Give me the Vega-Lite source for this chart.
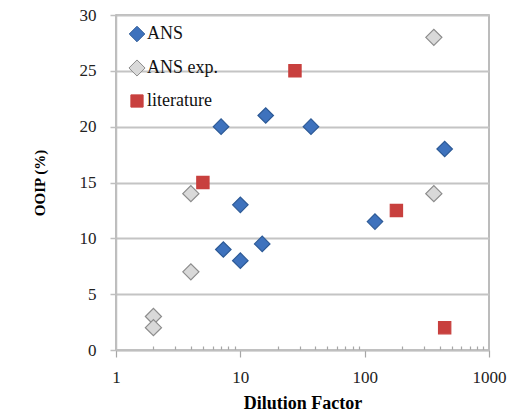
{
  "$schema": "https://vega.github.io/schema/vega-lite/v6.json",
  "autosize": "none",
  "width": 373,
  "height": 335,
  "padding": {"left": 116, "top": 15, "right": 42, "bottom": 65},
  "background": "white",
  "config": {
    "font": "Liberation Serif",
    "view": {"stroke": "#A6A6A6", "strokeWidth": 1.5}
  },
  "data": {
    "values": [
      {"series": "ANS", "dilution": 7, "ooip": 20},
      {"series": "ANS", "dilution": 7.3, "ooip": 9},
      {"series": "ANS", "dilution": 10, "ooip": 13},
      {"series": "ANS", "dilution": 10, "ooip": 8},
      {"series": "ANS", "dilution": 15, "ooip": 9.5},
      {"series": "ANS", "dilution": 16, "ooip": 21},
      {"series": "ANS", "dilution": 37, "ooip": 20},
      {"series": "ANS", "dilution": 121, "ooip": 11.5},
      {"series": "ANS", "dilution": 440, "ooip": 18},
      {"series": "ANS exp.", "dilution": 2, "ooip": 3},
      {"series": "ANS exp.", "dilution": 2, "ooip": 2},
      {"series": "ANS exp.", "dilution": 4, "ooip": 14},
      {"series": "ANS exp.", "dilution": 4, "ooip": 7},
      {"series": "ANS exp.", "dilution": 360, "ooip": 28},
      {"series": "ANS exp.", "dilution": 360, "ooip": 14},
      {"series": "literature", "dilution": 5, "ooip": 15},
      {"series": "literature", "dilution": 27.5, "ooip": 25},
      {"series": "literature", "dilution": 180, "ooip": 12.5},
      {"series": "literature", "dilution": 440, "ooip": 2}
    ]
  },
  "mark": {"type": "point", "filled": true, "opacity": 1, "strokeWidth": 1.2},
  "encoding": {
    "x": {
      "field": "dilution",
      "type": "quantitative",
      "scale": {"type": "log", "domain": [1, 1000], "nice": false},
      "axis": {
        "title": "Dilution  Factor",
        "titleFontSize": 18,
        "titleFontWeight": "bold",
        "titleColor": "#000000",
        "titlePadding": 9,
        "values": [1, 2, 3, 4, 5, 6, 7, 8, 9, 10, 20, 30, 40, 50, 60, 70, 80, 90, 100, 200, 300, 400, 500, 600, 700, 800, 900, 1000],
        "labelExpr": "(datum.value == 1 || datum.value == 10 || datum.value == 100 || datum.value == 1000) ? datum.label : ''",
        "format": "d",
        "labelFontSize": 17,
        "labelColor": "#222222",
        "labelPadding": 12,
        "labelFlush": false,
        "labelOverlap": false,
        "grid": false,
        "domainColor": "#BFBFBF",
        "domainWidth": 1.5,
        "tickColor": "#A6A6A6",
        "tickWidth": 1.2,
        "tickSize": {"condition": {"test": "datum.value == 1 || datum.value == 10 || datum.value == 100 || datum.value == 1000", "value": 7}, "value": -4}
      }
    },
    "y": {
      "field": "ooip",
      "type": "quantitative",
      "scale": {"domain": [0, 30], "nice": false},
      "axis": {
        "title": "OOIP (%)",
        "titleFontSize": 15,
        "titleFontWeight": "bold",
        "titleColor": "#000000",
        "titlePadding": 32,
        "values": [0, 5, 10, 15, 20, 25, 30],
        "labelFontSize": 17,
        "labelColor": "#222222",
        "labelPadding": 14,
        "grid": true,
        "gridColor": "#C4C4C4",
        "gridWidth": 1.8,
        "domainColor": "#BFBFBF",
        "domainWidth": 1.5,
        "tickColor": "#BFBFBF",
        "tickSize": 6,
        "tickWidth": 1.5
      }
    },
    "color": {
      "field": "series",
      "type": "nominal",
      "scale": {"domain": ["ANS", "ANS exp.", "literature"], "range": ["#3E72BD", "#D9D9D9", "#C8403E"]},
      "legend": {
        "title": null,
        "orient": "none",
        "legendX": 12,
        "legendY": 10,
        "labelFontSize": 18,
        "labelColor": "#111111",
        "labelOffset": 1,
        "rowPadding": 13,
        "symbolSize": 75,
        "symbolStrokeWidth": 1
      }
    },
    "shape": {
      "field": "series",
      "type": "nominal",
      "scale": {"domain": ["ANS", "ANS exp.", "literature"], "range": ["diamond", "diamond", "square"]}
    },
    "stroke": {
      "field": "series",
      "type": "nominal",
      "scale": {"domain": ["ANS", "ANS exp.", "literature"], "range": ["#2D5A96", "#8C8C8C", "#C8403E"]}
    },
    "size": {
      "field": "series",
      "type": "nominal",
      "scale": {"type": "ordinal", "domain": ["ANS", "ANS exp.", "literature"], "range": [240, 260, 150]},
      "legend": null
    }
  }
}
